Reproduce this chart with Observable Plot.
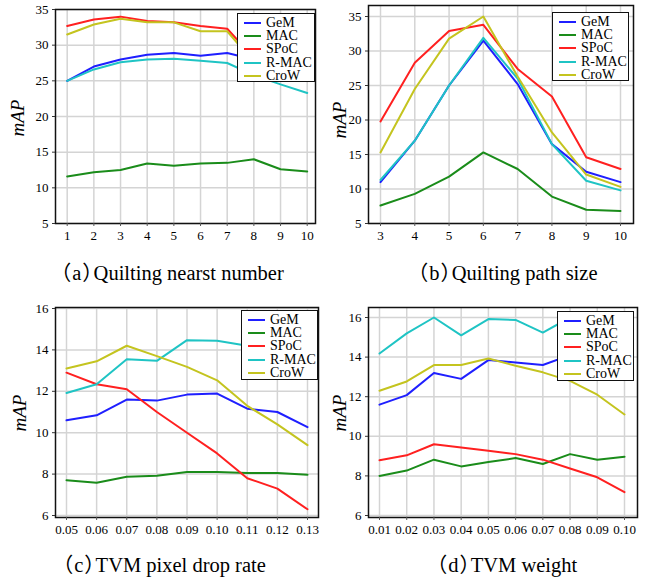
<!DOCTYPE html>
<html><head><meta charset="utf-8">
<script src="https://cdn.jsdelivr.net/npm/d3@7"></script>
<script src="https://cdn.jsdelivr.net/npm/@observablehq/plot@0.6"></script>
<style>
body{margin:0;background:#fff;width:645px;height:578px;position:relative;overflow:hidden;font-family:"Liberation Serif","Times New Roman","DejaVu Serif",serif;color:#000;}
.panel{position:absolute;}
.legend{position:absolute;background:#fff;border:1.5px solid #111;box-sizing:border-box;font-size:14px;}
.row{position:absolute;left:0;height:13px;line-height:13px;white-space:nowrap;}
.sw{position:absolute;top:6px;width:17px;height:0;border-top:2px solid;}
.caption{position:absolute;font-size:20.5px;line-height:22px;white-space:nowrap;font-family:"Liberation Serif","Times New Roman","Noto Sans CJK SC",serif;font-feature-settings:"halt";}
.caption .par{letter-spacing:1px;}
.ylab{position:absolute;font-style:italic;font-size:19px;line-height:20px;white-space:nowrap;transform:translate(-50%,-50%) rotate(-90deg);}
</style></head><body>
<script>
const series = ["GeM", "MAC", "SPoC", "R-MAC", "CroW"];
const colors = ["#1f1fff", "#1a8c1a", "#ff2020", "#1fc4c4", "#c4c41f"];

// (a) Quilting nearst number
const xA = [1, 2, 3, 4, 5, 6, 7, 8, 9, 10];
const gemA  = [25.0, 27.0, 28.0, 28.65, 28.9, 28.5, 28.9, 28.0, 27.2, 26.5];
const macA  = [11.6, 12.2, 12.5, 13.4, 13.1, 13.4, 13.5, 14.0, 12.6, 12.3];
const spocA = [32.7, 33.6, 34.0, 33.4, 33.2, 32.7, 32.3, 28.2, 27.2, 26.2];
const rmacA = [25.0, 26.6, 27.6, 28.0, 28.1, 27.8, 27.5, 25.8, 24.5, 23.3];
const crowA = [31.5, 32.9, 33.7, 33.2, 33.2, 31.95, 31.95, 27.6, 26.6, 25.6];
const yTicksA = [5, 10, 15, 20, 25, 30, 35];

// (b) Quilting path size
const xB = [3, 4, 5, 6, 7, 8, 9, 10];
const gemB  = [11.0, 17.0, 25.0, 31.5, 25.2, 16.5, 12.5, 11.0];
const macB  = [7.6, 9.3, 11.8, 15.3, 12.9, 8.9, 7.0, 6.8];
const spocB = [19.8, 28.3, 32.9, 33.8, 27.4, 23.4, 14.6, 12.9];
const rmacB = [11.3, 17.0, 25.0, 31.9, 26.0, 16.5, 11.2, 9.8];
const crowB = [15.3, 24.5, 31.8, 35.0, 26.3, 18.2, 12.1, 10.3];
const yTicksB = [5, 10, 15, 20, 25, 30, 35];

// (c) TVM pixel drop rate
const xC = [0.05, 0.06, 0.07, 0.08, 0.09, 0.10, 0.11, 0.12, 0.13];
const gemC  = [10.6, 10.84, 11.6, 11.55, 11.84, 11.89, 11.16, 11.0, 10.27];
const macC  = [7.7, 7.58, 7.87, 7.92, 8.1, 8.1, 8.05, 8.05, 7.97];
const spocC = [12.9, 12.34, 12.1, 11.0, 10.0, 9.0, 7.8, 7.3, 6.3];
const rmacC = [11.92, 12.34, 13.55, 13.47, 14.47, 14.44, 14.2, 14.0, 13.8];
const crowC = [13.1, 13.45, 14.2, 13.7, 13.18, 12.53, 11.3, 10.4, 9.4];
const yTicksC = [6, 8, 10, 12, 14, 16];

// (d) TVM weight
const xD = [0.01, 0.02, 0.03, 0.04, 0.05, 0.06, 0.07, 0.08, 0.09, 0.10];
const gemD  = [11.6, 12.08, 13.2, 12.9, 13.85, 13.73, 13.6, 14.1, 13.9, 13.6];
const macD  = [8.0, 8.27, 8.82, 8.48, 8.7, 8.9, 8.6, 9.1, 8.82, 8.97];
const spocD = [8.79, 9.04, 9.6, 9.44, 9.27, 9.1, 8.82, 8.37, 7.93, 7.18];
const rmacD = [14.18, 15.2, 16.0, 15.1, 15.92, 15.88, 15.24, 16.0, 15.8, 15.6];
const crowD = [12.3, 12.77, 13.6, 13.6, 13.93, 13.56, 13.23, 12.8, 12.1, 11.1];
const yTicksD = [6, 8, 10, 12, 14, 16];

const capTags = ["（a）", "（b）", "（c）", "（d）"];
const capTexts = ["Quilting nearst number", "Quilting path size", "TVM pixel drop rate", "TVM weight"];

const FONT = "'Liberation Serif','Times New Roman','DejaVu Serif',serif";

function tidy(xs, cols) {
  const out = [];
  cols.forEach((vals, k) => vals.forEach((v, i) => out.push({x: xs[i], y: v, s: series[k]})));
  return out;
}

function panel(o) {
  const data = tidy(o.xs, o.cols);
  const p = Plot.plot({
    width: o.w, height: o.h,
    marginLeft: o.ml, marginRight: o.mr, marginTop: o.mt, marginBottom: o.mb,
    insetLeft: o.il, insetRight: o.ir, insetTop: o.it, insetBottom: o.ib,
    style: {fontFamily: FONT, fontSize: "13px", color: "#000", background: "transparent"},
    x: {domain: [o.xs[0], o.xs[o.xs.length - 1]]},
    y: {domain: o.ydom},
    color: {domain: series, range: colors},
    marks: [
      Plot.gridX(o.xs, {stroke: "#d4d4d4", strokeOpacity: 1, strokeWidth: 1.5}),
      Plot.gridY(o.yt, {stroke: "#d4d4d4", strokeOpacity: 1, strokeWidth: 1.5}),
      Plot.line(data, {x: "x", y: "y", z: "s", stroke: "s", strokeWidth: 2}),
      Plot.frame({stroke: "#111", strokeWidth: 1.5}),
      Plot.axisX({ticks: o.xs, tickFormat: o.fmt, tickSize: 3, tickPadding: 4, label: null, fontSize: 13, stroke: "#555"}),
      Plot.axisY({ticks: o.yt, tickSize: 3, tickPadding: 4, label: null, fontSize: 13, stroke: "#333"})
    ]
  });
  const wrap = document.createElement("div");
  wrap.className = "panel";
  wrap.style.left = o.left + "px";
  wrap.style.top = o.top + "px";
  wrap.appendChild(p);
  document.body.appendChild(wrap);

  // legend
  const lg = document.createElement("div");
  lg.className = "legend";
  Object.assign(lg.style, {left: o.lg[0] + "px", top: o.lg[1] + "px", width: o.lg[2] + "px", height: o.lg[3] + "px"});
  series.forEach((s, i) => {
    const r = document.createElement("div");
    r.className = "row";
    r.style.top = (1.5 + 13.4 * i) + "px";
    const sw = document.createElement("span");
    sw.className = "sw";
    sw.style.left = "6px";
    sw.style.borderTopColor = colors[i];
    const t = document.createElement("span");
    t.style.position = "absolute";
    t.style.left = "28px";
    t.textContent = s;
    r.appendChild(sw); r.appendChild(t);
    lg.appendChild(r);
  });
  document.body.appendChild(lg);

  const yl = document.createElement("div");
  yl.className = "ylab";
  yl.textContent = "mAP";
  yl.style.left = o.yl[0] + "px";
  yl.style.top = o.yl[1] + "px";
  document.body.appendChild(yl);

  const c = document.createElement("div");
  c.className = "caption";
  const tag = document.createElement("span");
  tag.className = "par";
  tag.textContent = capTags[o.ci];
  c.appendChild(tag);
  c.appendChild(document.createTextNode(capTexts[o.ci]));
  c.style.left = o.capPos[0] + "px";
  c.style.top = (o.capPos[1] - 11) + "px";
  document.body.appendChild(c);
}

const f2 = d3.format(".2f");
panel({xs: xA, cols: [gemA, macA, spocA, rmacA, crowA], yt: yTicksA, ydom: [5, 35], fmt: d => String(d),
  left: 0, top: 0, w: 322, h: 245, ml: 55, mr: 7, mt: 9, mb: 22, il: 11.7, ir: 8.3, it: 0, ib: 0,
  lg: [237, 13, 78, 69], yl: [18, 118], ci: 0, capPos: [61, 273]});
panel({xs: xB, cols: [gemB, macB, spocB, rmacB, crowB], yt: yTicksB, ydom: [5, 35], fmt: d => String(d),
  left: 322, top: 0, w: 323, h: 245, ml: 46, mr: 12, mt: 5, mb: 22, il: 12, ir: 13, it: 11, ib: 0,
  lg: [552, 12, 77, 69], yl: [340, 120], ci: 1, capPos: [418, 273]});
panel({xs: xC, cols: [gemC, macC, spocC, rmacC, crowC], yt: yTicksC, ydom: [6, 16], fmt: f2,
  left: 0, top: 290, w: 322, h: 250, ml: 55, mr: 4, mt: 17, mb: 23, il: 11, ir: 11, it: 1, ib: 2,
  lg: [241, 310, 77, 70], yl: [20, 413], ci: 2, capPos: [63, 565]});
panel({xs: xD, cols: [gemD, macD, spocD, rmacD, crowD], yt: yTicksD, ydom: [6, 16], fmt: f2,
  left: 322, top: 290, w: 323, h: 250, ml: 46, mr: 8, mt: 17, mb: 23, il: 11, ir: 13, it: 10, ib: 2,
  lg: [557, 311, 77, 70], yl: [340, 413], ci: 3, capPos: [437, 565]});
</script>
</body></html>
